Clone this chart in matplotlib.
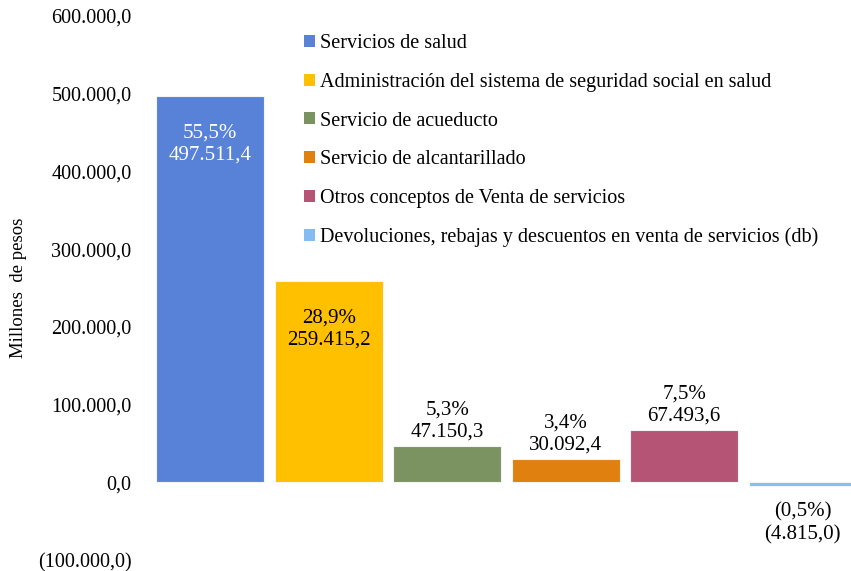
import matplotlib
matplotlib.use("Agg")
import matplotlib.pyplot as plt
from matplotlib.patches import Patch
from matplotlib.ticker import FuncFormatter

plt.rcParams["font.family"] = ["Liberation Serif", "DejaVu Serif"]

# data
categories = ["Servicios de salud",
              "Administración del sistema de seguridad social en salud",
              "Servicio de acueducto",
              "Servicio de alcantarillado",
              "Otros conceptos de Venta de servicios",
              "Devoluciones, rebajas y descuentos en venta de servicios (db)"]
values = [497511.4, 259415.2, 47150.3, 30092.4, 67493.6, -4815.0]
shares = [55.5, 28.9, 5.3, 3.4, 7.5, -0.5]
colors = ["#5881D8", "#FFC000", "#7A9360", "#E0800F", "#B55475", "#84BCF2"]
label_pos = ["inside", "inside", "above", "above", "above", "below"]
label_colors = ["white", "black", "black", "black", "black", "black"]
yticks = [-100000, 0, 100000, 200000, 300000, 400000, 500000, 600000]


def es_num(v, dec=1):
    s = f"{abs(v):,.{dec}f}".replace(",", "X").replace(".", ",").replace("X", ".")
    return f"({s})" if v < 0 else s


W, H = 851, 571
fig = plt.figure(figsize=(W / 100, H / 100), dpi=100)
ax = fig.add_axes([151 / W, 11 / H, 711 / W, 544 / H])
ax.set_xlim(-0.5, 5.5)
ax.set_ylim(-100000, 600000)

x = list(range(len(values)))
ax.bar(x, values, width=0.91, color=colors, edgecolor="#f4f4f4", linewidth=0.8)

for xi, v, sh, pos, lc in zip(x, values, shares, label_pos, label_colors):
    txt = f"{es_num(sh)}%" if sh >= 0 else f"({es_num(abs(sh))}%)"
    txt += "\n" + es_num(v)
    if pos == "inside":
        ax.annotate(txt, (xi, v), xytext=(0, -35), textcoords="offset points",
                    ha="center", va="center", fontsize=15, color=lc, linespacing=1.2)
    elif pos == "above":
        ax.annotate(txt, (xi, v), xytext=(0, 3), textcoords="offset points",
                    ha="center", va="bottom", fontsize=15, color=lc, linespacing=1.2)
    else:
        ax.annotate(txt, (xi, v), xytext=(0, -12), textcoords="offset points",
                    ha="center", va="top", fontsize=15, color=lc, linespacing=1.2)

ax.set_yticks(yticks)
ax.yaxis.set_major_formatter(FuncFormatter(lambda v, p: es_num(v)))
ax.tick_params(axis="y", length=0, pad=14, labelsize=14.5)
ax.set_xticks([])
for s in ax.spines.values():
    s.set_visible(False)
ax.set_ylabel("Millones  de pesos", fontsize=13.5)
ax.yaxis.set_label_coords(-0.175, 0.5)

handles = [Patch(facecolor=c) for c in colors]
fig.legend(handles, categories, loc="upper left", bbox_to_anchor=(294 / W, 1 - 24 / H),
           frameon=False, fontsize=14.5, handlelength=0.55, handleheight=0.55,
           handletextpad=0.25, labelspacing=0.98, borderpad=0)

fig.savefig("out.png", dpi=100)
